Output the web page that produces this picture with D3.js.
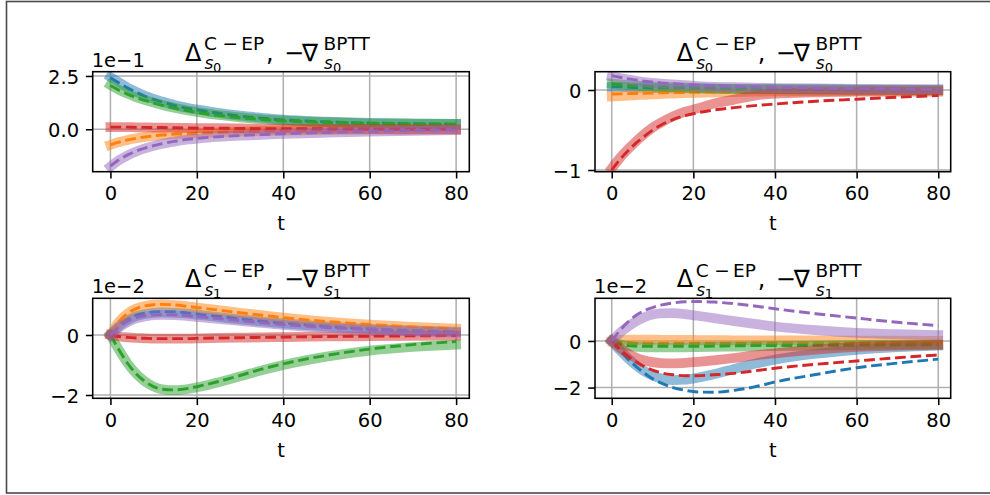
<!DOCTYPE html>
<html><head><meta charset="utf-8">
<script src="https://cdn.jsdelivr.net/npm/d3@7"></script>
<style>body{margin:0;background:#fff}svg{display:block}</style>
</head><body>
<svg id="c" width="990" height="495"></svg>
<script>
// ---------- data ----------
const times = [0, 2, 4, 6, 8, 10, 12, 15, 18, 21, 25, 30, 35, 40, 50, 60, 70, 80];
const seriesColors = ["#1f77b4", "#ff7f0e", "#2ca02c", "#d62728", "#9467bd"];
const xTicks = [0, 20, 40, 60, 80];

// Panel A: Delta_s0 (values in units of 1e-1)
const aCEP = [
  [2.45, 2.2, 1.95, 1.75, 1.57, 1.42, 1.3, 1.13, 1.0, 0.9, 0.77, 0.64, 0.54, 0.45, 0.36, 0.3, 0.27, 0.25],
  [-0.73, -0.6, -0.5, -0.42, -0.36, -0.31, -0.27, -0.23, -0.21, -0.18, -0.15, -0.11, -0.08, -0.06, -0.04, -0.02, -0.01, 0.0],
  [2.08, 1.85, 1.66, 1.5, 1.37, 1.25, 1.14, 1.0, 0.88, 0.78, 0.67, 0.56, 0.47, 0.4, 0.33, 0.28, 0.26, 0.25],
  [0.1, 0.1, 0.1, 0.09, 0.09, 0.08, 0.08, 0.07, 0.06, 0.05, 0.05, 0.04, 0.03, 0.03, 0.02, 0.01, 0.0, 0.0],
  [-1.75, -1.45, -1.22, -1.04, -0.9, -0.78, -0.68, -0.57, -0.48, -0.42, -0.36, -0.3, -0.26, -0.22, -0.16, -0.11, -0.07, -0.04]
];
const aBPTT = [
  [2.42, 2.17, 1.93, 1.73, 1.55, 1.4, 1.28, 1.11, 0.98, 0.88, 0.75, 0.62, 0.52, 0.44, 0.35, 0.29, 0.26, 0.24],
  [-0.73, -0.6, -0.5, -0.42, -0.36, -0.31, -0.27, -0.23, -0.21, -0.18, -0.15, -0.11, -0.08, -0.06, -0.04, -0.02, -0.01, 0.0],
  [2.05, 1.83, 1.64, 1.48, 1.35, 1.23, 1.12, 0.98, 0.86, 0.76, 0.65, 0.54, 0.46, 0.39, 0.32, 0.27, 0.25, 0.24],
  [0.1, 0.1, 0.1, 0.09, 0.09, 0.08, 0.08, 0.07, 0.06, 0.05, 0.05, 0.04, 0.03, 0.03, 0.02, 0.01, 0.0, 0.0],
  [-1.73, -1.43, -1.2, -1.02, -0.88, -0.77, -0.67, -0.56, -0.47, -0.41, -0.35, -0.29, -0.25, -0.21, -0.15, -0.1, -0.06, -0.03]
];

// Panel B: Delta_s0 (absolute values)
const bCEP = [
  [0.04, 0.04, 0.035, 0.03, 0.03, 0.025, 0.025, 0.02, 0.02, 0.02, 0.015, 0.015, 0.01, 0.01, 0.01, 0.005, 0.005, 0.0],
  [-0.08, -0.075, -0.07, -0.065, -0.06, -0.055, -0.05, -0.045, -0.04, -0.035, -0.03, -0.025, -0.02, -0.018, -0.013, -0.01, -0.008, -0.005],
  [0.08, 0.07, 0.06, 0.055, 0.05, 0.045, 0.04, 0.035, 0.03, 0.025, 0.02, 0.015, 0.012, 0.01, 0.005, 0.003, 0.0, 0.0],
  [-0.98, -0.85, -0.74, -0.64, -0.55, -0.47, -0.41, -0.33, -0.27, -0.23, -0.17, -0.12, -0.07, -0.045, -0.03, -0.02, -0.02, -0.02],
  [0.17, 0.15, 0.13, 0.115, 0.1, 0.09, 0.08, 0.07, 0.06, 0.05, 0.04, 0.035, 0.03, 0.025, 0.02, 0.015, 0.01, 0.01]
];
const bBPTT = [
  [0.04, 0.04, 0.035, 0.03, 0.03, 0.025, 0.025, 0.02, 0.02, 0.02, 0.015, 0.015, 0.01, 0.01, 0.01, 0.005, 0.005, 0.0],
  [-0.05, -0.048, -0.045, -0.043, -0.04, -0.038, -0.035, -0.032, -0.03, -0.028, -0.025, -0.022, -0.02, -0.018, -0.015, -0.012, -0.01, -0.008],
  [0.08, 0.07, 0.06, 0.055, 0.05, 0.045, 0.04, 0.035, 0.03, 0.025, 0.02, 0.015, 0.012, 0.01, 0.005, 0.003, 0.0, 0.0],
  [-1.0, -0.87, -0.76, -0.66, -0.58, -0.5, -0.44, -0.37, -0.32, -0.285, -0.25, -0.22, -0.195, -0.175, -0.14, -0.115, -0.09, -0.07],
  [0.18, 0.16, 0.14, 0.125, 0.11, 0.1, 0.09, 0.08, 0.07, 0.06, 0.052, 0.045, 0.04, 0.035, 0.025, 0.018, 0.012, 0.008]
];

// Panel C: Delta_s1 (values in units of 1e-2)
const cCEP = [
  [0, 0.3, 0.5, 0.63, 0.7, 0.74, 0.75, 0.74, 0.71, 0.66, 0.6, 0.52, 0.45, 0.39, 0.29, 0.2, 0.15, 0.11],
  [0, 0.45, 0.72, 0.88, 0.97, 1.01, 1.02, 1.0, 0.95, 0.9, 0.83, 0.74, 0.66, 0.58, 0.45, 0.35, 0.27, 0.21],
  [0, -0.5, -0.95, -1.3, -1.55, -1.72, -1.81, -1.84, -1.8, -1.72, -1.58, -1.38, -1.18, -1.0, -0.72, -0.52, -0.4, -0.32],
  [0, -0.05, -0.08, -0.1, -0.11, -0.12, -0.12, -0.12, -0.12, -0.11, -0.1, -0.09, -0.08, -0.07, -0.05, -0.04, -0.03, -0.02],
  [0, 0.25, 0.43, 0.55, 0.62, 0.66, 0.67, 0.66, 0.63, 0.59, 0.54, 0.47, 0.4, 0.34, 0.24, 0.17, 0.12, 0.08]
];
const cBPTT = [
  [0, 0.32, 0.53, 0.66, 0.73, 0.77, 0.78, 0.77, 0.73, 0.68, 0.62, 0.54, 0.46, 0.4, 0.29, 0.21, 0.15, 0.11],
  [0, 0.45, 0.72, 0.88, 0.97, 1.01, 1.02, 1.0, 0.95, 0.9, 0.83, 0.74, 0.66, 0.58, 0.45, 0.35, 0.27, 0.21],
  [0, -0.5, -0.95, -1.3, -1.55, -1.72, -1.81, -1.83, -1.78, -1.69, -1.55, -1.35, -1.14, -0.96, -0.68, -0.47, -0.32, -0.22],
  [0, -0.05, -0.08, -0.1, -0.11, -0.12, -0.12, -0.12, -0.12, -0.11, -0.1, -0.09, -0.08, -0.07, -0.05, -0.04, -0.03, -0.02],
  [0, 0.27, 0.46, 0.58, 0.64, 0.67, 0.68, 0.67, 0.64, 0.6, 0.55, 0.48, 0.41, 0.35, 0.25, 0.18, 0.12, 0.08]
];

// Panel D: Delta_s1 (values in units of 1e-2)
const dCEP = [
  [0, -0.4, -0.75, -1.05, -1.3, -1.48, -1.6, -1.68, -1.66, -1.58, -1.43, -1.2, -0.98, -0.8, -0.55, -0.38, -0.27, -0.2],
  [0, 0.05, 0.06, 0.06, 0.06, 0.06, 0.05, 0.05, 0.05, 0.04, 0.04, 0.03, 0.03, 0.02, 0.02, 0.01, 0.01, 0.0],
  [0, -0.15, -0.22, -0.25, -0.27, -0.27, -0.27, -0.27, -0.27, -0.26, -0.25, -0.24, -0.23, -0.22, -0.2, -0.18, -0.16, -0.15],
  [0, -0.3, -0.55, -0.72, -0.84, -0.91, -0.95, -0.96, -0.94, -0.9, -0.83, -0.73, -0.62, -0.53, -0.37, -0.25, -0.2, -0.17],
  [0, 0.35, 0.62, 0.85, 1.02, 1.13, 1.18, 1.19, 1.15, 1.08, 0.98, 0.85, 0.73, 0.62, 0.46, 0.35, 0.29, 0.25]
];
const dBPTT = [
  [0, -0.4, -0.78, -1.1, -1.38, -1.62, -1.8, -2.0, -2.12, -2.19, -2.2, -2.12, -1.97, -1.76, -1.44, -1.15, -0.95, -0.78],
  [0, -0.05, -0.08, -0.1, -0.1, -0.1, -0.1, -0.1, -0.1, -0.1, -0.1, -0.1, -0.1, -0.1, -0.09, -0.08, -0.08, -0.07],
  [0, -0.14, -0.2, -0.22, -0.23, -0.23, -0.23, -0.23, -0.23, -0.23, -0.22, -0.21, -0.2, -0.2, -0.19, -0.18, -0.17, -0.16],
  [0, -0.35, -0.65, -0.9, -1.1, -1.25, -1.36, -1.45, -1.49, -1.49, -1.45, -1.39, -1.28, -1.17, -1.0, -0.86, -0.72, -0.6],
  [0, 0.45, 0.82, 1.1, 1.3, 1.43, 1.54, 1.63, 1.68, 1.69, 1.67, 1.6, 1.5, 1.38, 1.17, 0.98, 0.8, 0.66]
];

const aYTicks = [0, 2.5], aYLabels = ["0.0", "2.5"];
const bYTicks = [0, -1], bYLabels = ["0", "\u22121"];
const cYTicks = [0, -2], cYLabels = ["0", "\u22122"];
const dYTicks = [0, -2], dYLabels = ["0", "\u22122"];

// ---------- layout ----------
const panels = [
  {cep: aCEP, bptt: aBPTT, yt: aYTicks, yl: aYLabels, off: "1e\u22121", sub: "0",
   box: [92.7, 71.7, 469.3, 171.7], yDom: [-1.99, 2.70]},
  {cep: bCEP, bptt: bBPTT, yt: bYTicks, yl: bYLabels, off: null, sub: "0",
   box: [595, 71.7, 950.7, 171.7], yDom: [-1.021, 0.229]},
  {cep: cCEP, bptt: cBPTT, yt: cYTicks, yl: cYLabels, off: "1e\u22122", sub: "1",
   box: [92.7, 298.3, 469.3, 398.3], yDom: [-2.11, 1.223]},
  {cep: dCEP, bptt: dBPTT, yt: dYTicks, yl: dYLabels, off: "1e\u22122", sub: "1",
   box: [595, 298.3, 950.7, 398.3], yDom: [-2.46, 1.83]}
];

const FONT = "'DejaVu Sans', sans-serif";
const FS = 19.5;
const TICK = 6.8, PAD = 6.8, LW = 1.56;
const svg = d3.select("#c");
svg.append("rect").attr("x", 6.5).attr("y", 1.5).attr("width", 1000).attr("height", 491.5)
  .attr("fill", "#fff").attr("stroke", "#4a4a4a").attr("stroke-width", 1.6);

// Title as a single text element; pieces are tspans with absolute positions
function drawTitle(g, cx, base, sub) {
  const L = cx - 96;
  const T1 = 24, S = 18.5, SI = 17, SS = 13;
  const pieces = [
    {t: "\u0394", x: 0, dy: 0, fs: T1},
    {t: "C", x: 19, dy: -10.7, fs: S},
    {t: "\u2212", x: 37.4, dy: -10.7, fs: S},
    {t: "EP", x: 56.2, dy: -10.7, fs: S},
    {t: "s", x: 19.5, dy: 8.3, fs: SI, it: true},
    {t: sub, x: 28, dy: 11, fs: SS},
    {t: ",", x: 81, dy: 0, fs: T1},
    {t: "\u2212\u2207", x: 99, dy: 0, fs: T1},
    {t: "BPTT", x: 138.6, dy: -10.7, fs: S},
    {t: "s", x: 139, dy: 8.3, fs: SI, it: true},
    {t: sub, x: 148, dy: 11, fs: SS}
  ];
  const txt = g.append("text").attr("x", L).attr("y", base)
    .attr("font-family", FONT).attr("fill", "#000");
  pieces.forEach(p => {
    txt.append("tspan").attr("x", L + p.x).attr("y", base + p.dy)
      .attr("font-size", p.fs)
      .attr("font-style", p.it ? "italic" : "normal")
      .attr("letter-spacing", p.t === "\u2212\u2207" ? -2.2 : null)
      .text(p.t);
  });
}

panels.forEach((p, pi) => {
  const [x0, y0, x1, y1] = p.box;
  const x = d3.scaleLinear().domain([-4.1, 83.05]).range([x0, x1]);
  const y = d3.scaleLinear().domain(p.yDom).range([y1, y0]);
  const g = svg.append("g");
  const cid = "clip" + pi;
  g.append("clipPath").attr("id", cid).append("rect")
    .attr("x", x0).attr("y", y0).attr("width", x1 - x0).attr("height", y1 - y0);

  // grid
  const grid = g.append("g");
  xTicks.forEach(v => grid.append("line").attr("x1", x(v)).attr("x2", x(v)).attr("y1", y0).attr("y2", y1)
    .attr("stroke", "#b0b0b0").attr("stroke-width", LW));
  p.yt.forEach(v => grid.append("line").attr("x1", x0).attr("x2", x1).attr("y1", y(v)).attr("y2", y(v))
    .attr("stroke", "#b0b0b0").attr("stroke-width", LW));

  const line = d3.line().x((d, i) => x(times[i])).y(d => y(d)).curve(d3.curveMonotoneX);
  const lines = g.append("g").attr("clip-path", `url(#${cid})`);
  p.cep.forEach((s, si) => {
    lines.append("path").attr("d", line(s)).attr("fill", "none")
      .attr("stroke", seriesColors[si]).attr("stroke-opacity", 0.5)
      .attr("stroke-width", 9.75).attr("stroke-linecap", "square").attr("stroke-linejoin", "round");
    lines.append("path").attr("d", line(p.bptt[si])).attr("fill", "none")
      .attr("stroke", seriesColors[si]).attr("stroke-width", 2.9)
      .attr("stroke-dasharray", "10.8,4.7").attr("stroke-linecap", "butt");
  });

  // axes via d3
  const xa = g.append("g").attr("transform", `translate(0,${y1})`)
    .call(d3.axisBottom(x).tickValues(xTicks).tickSize(TICK).tickPadding(PAD).tickFormat(d3.format("d")));
  const ya = g.append("g").attr("transform", `translate(${x0},0)`)
    .call(d3.axisLeft(y).tickValues(p.yt).tickSize(TICK).tickPadding(PAD).tickFormat((d, i) => p.yl[i]));
  [xa, ya].forEach(a => {
    a.select(".domain").remove();
    a.selectAll("line").attr("stroke", "#000").attr("stroke-width", LW);
    a.selectAll("text").attr("font-family", FONT).attr("font-size", FS).attr("fill", "#000");
  });
  xa.selectAll("text").attr("dy", null).attr("y", 28.6).attr("dominant-baseline", "auto");
  ya.selectAll("text").attr("dy", null).attr("y", 7.3).attr("dominant-baseline", "auto");

  // spines
  g.append("rect").attr("x", x0).attr("y", y0).attr("width", x1 - x0).attr("height", y1 - y0)
    .attr("fill", "none").attr("stroke", "#000").attr("stroke-width", LW);

  // x label
  g.append("text").attr("x", (x0 + x1) / 2).attr("y", y1 + 58.5).attr("text-anchor", "middle")
    .attr("font-family", FONT).attr("font-size", FS).text("t");

  // offset text
  if (p.off) {
    g.append("text").attr("x", x0 - 1).attr("y", y0 - 5).attr("font-family", FONT)
      .attr("font-size", FS).text(p.off);
  }

  drawTitle(g, (x0 + x1) / 2, y0 - 11, p.sub);
});
</script>
</body></html>
